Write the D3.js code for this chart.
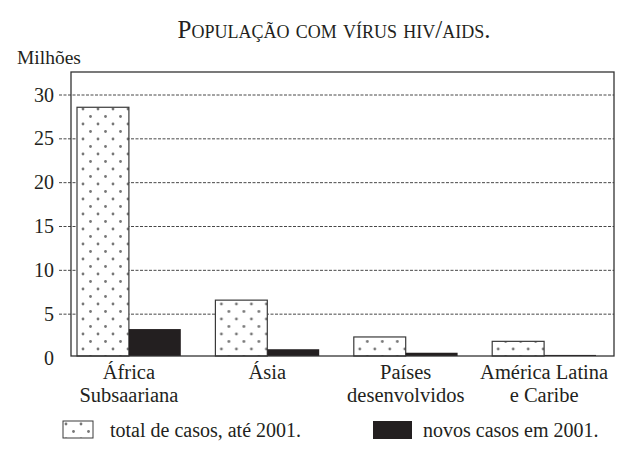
<!DOCTYPE html>
<html>
<head>
<meta charset="utf-8">
<script src="https://cdn.jsdelivr.net/npm/d3@7"></script>
<style>
  body { margin: 0; background: #fff; }
  svg { display: block; }
  svg text { font-family: 'Liberation Serif', 'Times New Roman', Times, 'DejaVu Serif', serif !important; }
</style>
</head>
<body>
<svg id="chart"></svg>
<script>
// data (milhões de pessoas)
const categories = ['África Subsaariana', 'Ásia', 'Países desenvolvidos', 'América Latina e Caribe'];
const labelLines = [['África', 'Subsaariana'], ['Ásia'], ['Países', 'desenvolvidos'], ['América Latina', 'e Caribe']];
const totalCasos = [28.6, 6.6, 2.4, 1.9];
const novosCasos = [3.3, 1.0, 0.6, 0.35];
const yTicks = [0, 5, 10, 15, 20, 25, 30];
const seriesNames = ['total de casos, até 2001.', 'novos casos em 2001.'];

const width = 625, height = 457;
const frame = {left: 71, right: 614, top: 72, bottom: 356};

const svg = d3.select('#chart')
  .attr('width', width)
  .attr('height', height)
  .attr('fill', '#231f20');

// dotted pattern for the "total" bars
const defs = svg.append('defs');
const pat = defs.append('pattern')
  .attr('id', 'dots')
  .attr('patternUnits', 'userSpaceOnUse')
  .attr('width', 15)
  .attr('height', 15)
  .attr('x', 77)
  .attr('y', 0);
pat.append('rect').attr('width', 15).attr('height', 15).attr('fill', '#fff');
pat.append('circle').attr('cx', 4).attr('cy', 4).attr('r', 1.4).attr('fill', '#777');
pat.append('circle').attr('cx', 11.5).attr('cy', 11.5).attr('r', 1.4).attr('fill', '#777');

// scales
const y = d3.scaleLinear().domain([0, 30]).range([358, 95]);
const x = d3.scaleBand().domain(categories).range([77, 596]).paddingInner(0.25).paddingOuter(0);
const xs = d3.scaleBand().domain(['total', 'novos']).range([0, x.bandwidth()]);

// title
svg.append('text')
  .attr('x', 334)
  .attr('y', 38)
  .attr('text-anchor', 'middle')
  .style('font-size', '25px')
  .style('font-variant', 'small-caps')
  .text('População com vírus hiv/aids.');

svg.append('text')
  .attr('x', 17)
  .attr('y', 64)
  .style('font-size', '19.5px')
  .text('Milhões');

// dashed grid lines + tick marks
svg.append('g')
  .selectAll('line')
  .data(yTicks.filter(d => d > 0))
  .join('line')
    .attr('x1', 59)
    .attr('x2', frame.right)
    .attr('y1', d => y(d))
    .attr('y2', d => y(d))
    .attr('stroke', '#333')
    .attr('stroke-width', 0.9)
    .attr('stroke-dasharray', '3,1.5');

// y tick labels
svg.append('g')
  .selectAll('text')
  .data(yTicks)
  .join('text')
    .attr('x', 54)
    .attr('y', d => d === 0 ? 358 : y(d))
    .attr('dy', '0.33em')
    .attr('text-anchor', 'end')
    .style('font-size', '20px')
    .text(d => d);

// bars
const groups = svg.append('g')
  .selectAll('g')
  .data(categories)
  .join('g')
    .attr('transform', d => `translate(${x(d)},0)`);

groups.append('rect')
  .attr('x', xs('total'))
  .attr('y', (d, i) => y(totalCasos[i]))
  .attr('width', xs.bandwidth())
  .attr('height', (d, i) => frame.bottom - y(totalCasos[i]))
  .attr('fill', 'url(#dots)')
  .attr('stroke', '#3a3a3a')
  .attr('stroke-width', 1.2);

groups.append('rect')
  .attr('x', xs('novos'))
  .attr('y', (d, i) => y(novosCasos[i]))
  .attr('width', xs.bandwidth())
  .attr('height', (d, i) => frame.bottom - y(novosCasos[i]))
  .attr('fill', '#231f20');

// frame
svg.append('rect')
  .attr('x', frame.left)
  .attr('y', frame.top)
  .attr('width', frame.right - frame.left)
  .attr('height', frame.bottom - frame.top)
  .attr('fill', 'none')
  .attr('stroke', '#333')
  .attr('stroke-width', 1.3);

// category labels
groups.each(function(d, i) {
  const t = d3.select(this).append('text')
    .attr('x', x.bandwidth() / 2)
    .attr('y', 379)
    .attr('text-anchor', 'middle')
    .style('font-size', '20.5px');
  labelLines[i].forEach((line, j) => {
    t.append('tspan')
      .attr('x', x.bandwidth() / 2)
      .attr('dy', j === 0 ? 0 : 22.5)
      .text(line);
  });
});

// legend
const legend = svg.append('g').style('font-size', '20px');
legend.append('rect')
  .attr('x', 63).attr('y', 421).attr('width', 30).attr('height', 17)
  .attr('fill', 'url(#dots)')
  .attr('stroke', '#3a3a3a').attr('stroke-width', 1);
legend.append('text')
  .attr('x', 110).attr('y', 437)
  .text(seriesNames[0]);
legend.append('rect')
  .attr('x', 373).attr('y', 421).attr('width', 39).attr('height', 18)
  .attr('fill', '#231f20');
legend.append('text')
  .attr('x', 423).attr('y', 437)
  .text(seriesNames[1]);
</script>
</body>
</html>
